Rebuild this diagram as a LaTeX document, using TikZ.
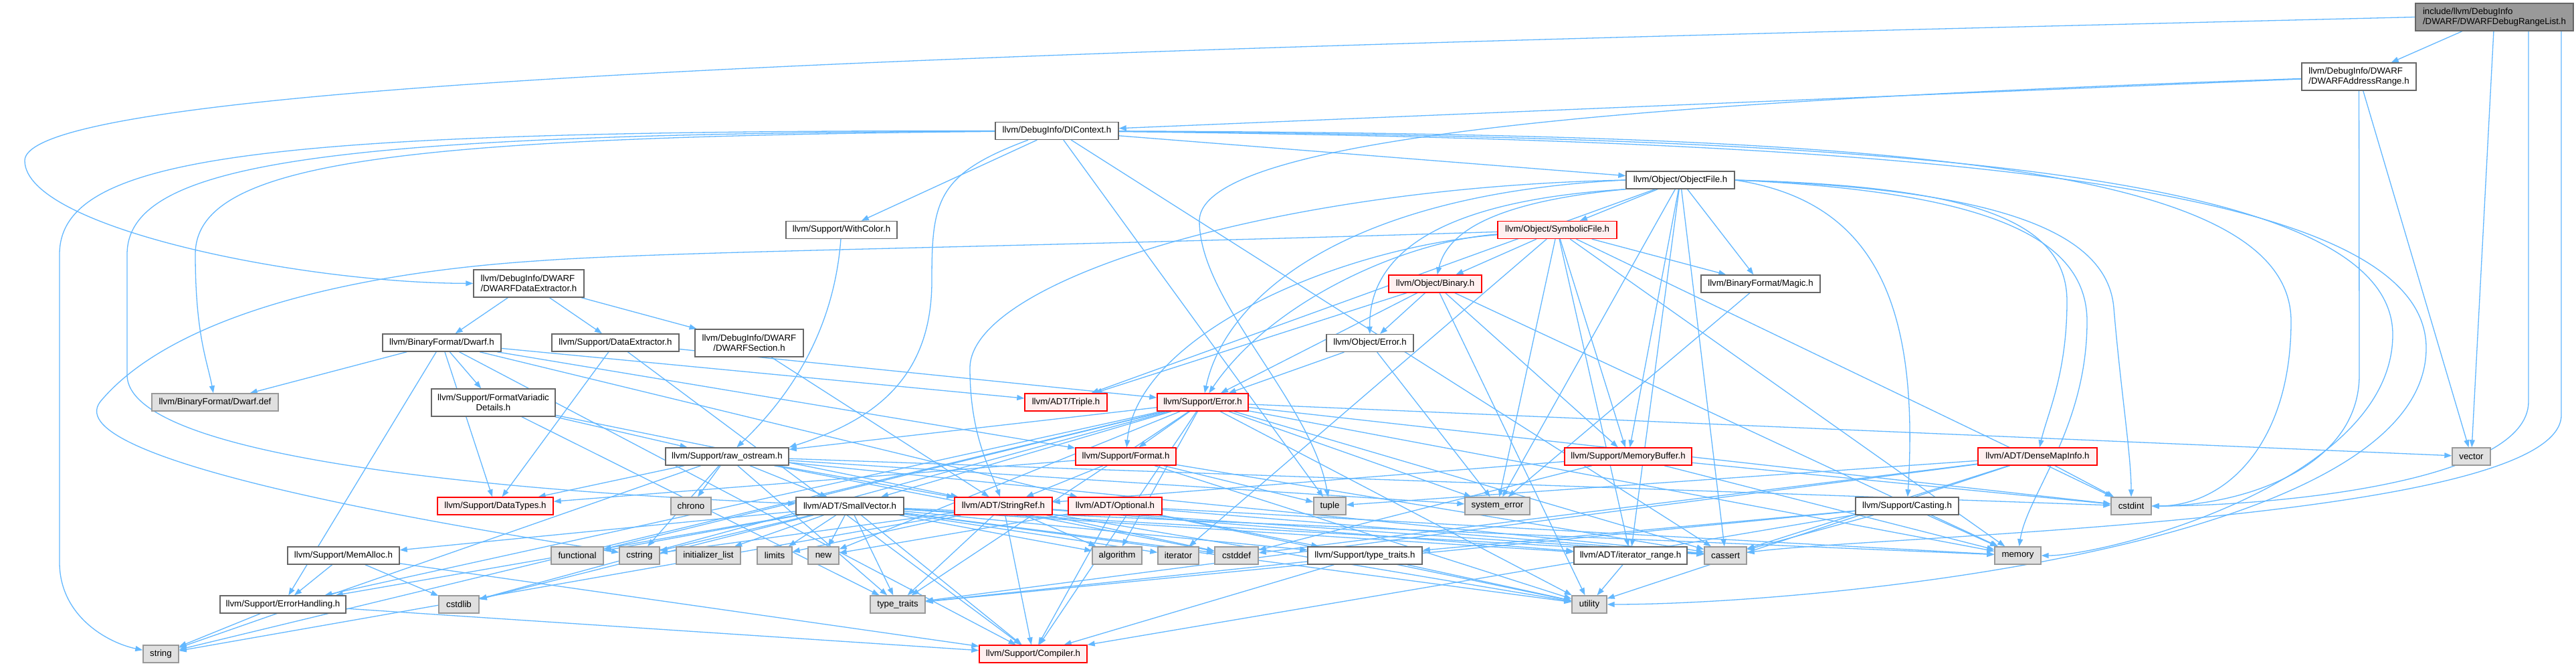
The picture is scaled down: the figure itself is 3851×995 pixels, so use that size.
\documentclass[tikz,border=0pt]{standalone}
\usepackage{fontspec}
\setmainfont{Liberation Sans}
\usetikzlibrary{arrows.meta,calc}
\pgfdeclarelayer{bgfill}
\pgfdeclarelayer{edges}
\pgfsetlayers{bgfill,edges,main}
\definecolor{edgeblue}{HTML}{63B8FF}
\definecolor{nodegray}{HTML}{666666}
\definecolor{sysfill}{HTML}{E0E0E0}
\definecolor{sysdraw}{HTML}{999999}
\definecolor{redfill}{HTML}{FFF0F0}
\definecolor{rootfill}{HTML}{999999}
\begin{document}
\begin{tikzpicture}[x=1pt,y=-1pt,
 base/.style={draw, line width=1.4pt, inner sep=0pt, minimum height=26pt, font=\fontsize{13.3}{14.8}\selectfont, text=black},
 wnode/.style={base, draw=nodegray, fill=white},
 snode/.style={base, draw=sysdraw, fill=sysfill},
 rnode/.style={base, draw=red, fill=redfill},
 rootnode/.style={base, draw=nodegray, fill=rootfill},
 twol/.style={minimum height=41pt, align=left},
 twoc/.style={minimum height=41pt, align=center},
 edge/.style={draw=edgeblue, line width=1.3pt, -{Triangle[length=11pt,width=8pt]}},
]
\useasboundingbox (0,0) rectangle (3851,995);
\begin{pgfonlayer}{bgfill}
\fill[white] (0,0) rectangle (3851,995);
\end{pgfonlayer}

\node[rootnode,twol,minimum width=236pt] (A) at (3729,25.5) {include/llvm/DebugInfo\\/DWARF/DWARFDebugRangeList.h};
\node[wnode,twol,minimum width=171pt] (B) at (3526.5,114.5) {llvm/DebugInfo/DWARF\\/DWARFAddressRange.h};
\node[wnode,minimum width=184pt] (C) at (1580,195.5) {llvm/DebugInfo/DIContext.h};
\node[wnode,minimum width=162pt] (D) at (2512,269) {llvm/Object/ObjectFile.h};
\node[wnode,minimum width=166pt] (E) at (1258,343.5) {llvm/Support/WithColor.h};
\node[rnode,minimum width=178pt] (F) at (2328,343.5) {llvm/Object/SymbolicFile.h};
\node[wnode,twol,minimum width=165pt] (G) at (790.5,423.5) {llvm/DebugInfo/DWARF\\/DWARFDataExtractor.h};
\node[rnode,minimum width=139pt] (H) at (2145.5,424) {llvm/Object/Binary.h};
\node[wnode,minimum width=178pt] (I) at (2632,424) {llvm/BinaryFormat/Magic.h};
\node[wnode,minimum width=177pt] (J) at (660.5,512) {llvm/BinaryFormat/Dwarf.h};
\node[wnode,minimum width=190pt] (K) at (920,512) {llvm/Support/DataExtractor.h};
\node[wnode,twoc,minimum width=162pt] (L) at (1120,512.5) {llvm/DebugInfo/DWARF\\/DWARFSection.h};
\node[wnode,minimum width=130pt] (M) at (2048,512.5) {llvm/Object/Error.h};
\node[snode,minimum width=189pt] (N) at (321.5,601) {llvm/BinaryFormat/Dwarf.def};
\node[wnode,twoc,minimum width=185pt] (O) at (737.5,601.5) {llvm/Support/FormatVariadic\\Details.h};
\node[rnode,minimum width=123pt] (P) at (1593.5,601) {llvm/ADT/Triple.h};
\node[rnode,minimum width=136pt] (Q) at (1798,601) {llvm/Support/Error.h};
\node[wnode,minimum width=184pt] (R) at (1087,682) {llvm/Support/raw\_ostream.h};
\node[rnode,minimum width=150pt] (S) at (1683,682) {llvm/Support/Format.h};
\node[rnode,minimum width=190pt] (T) at (2434,682) {llvm/Support/MemoryBuffer.h};
\node[rnode,minimum width=178pt] (U) at (3046,682) {llvm/ADT/DenseMapInfo.h};
\node[snode,minimum width=57pt] (V) at (3694.5,682) {vector};
\node[rnode,minimum width=173pt] (W) at (740.5,756) {llvm/Support/DataTypes.h};
\node[snode,minimum width=60pt] (X) at (1033,756) {chrono};
\node[wnode,minimum width=161pt] (Y) at (1270.5,756) {llvm/ADT/SmallVector.h};
\node[rnode,minimum width=146pt] (Z) at (1500,756) {llvm/ADT/StringRef.h};
\node[rnode,minimum width=140pt] (AA) at (1667,756) {llvm/ADT/Optional.h};
\node[snode,minimum width=48pt] (AB) at (1988,756) {tuple};
\node[snode,minimum width=97pt] (AC) at (2238.5,756) {system\_error};
\node[wnode,minimum width=154pt] (AD) at (2851,756) {llvm/Support/Casting.h};
\node[snode,minimum width=60pt] (AE) at (3186,756) {cstdint};
\node[wnode,minimum width=167pt] (AF) at (513.5,830) {llvm/Support/MemAlloc.h};
\node[snode,minimum width=78pt] (AG) at (863,830) {functional};
\node[snode,minimum width=60pt] (AH) at (956,830) {cstring};
\node[snode,minimum width=96pt] (AI) at (1059,830) {initializer\_list};
\node[snode,minimum width=52pt] (AJ) at (1158,830) {limits};
\node[snode,minimum width=46pt] (AK) at (1231,830) {new};
\node[snode,minimum width=74pt] (AL) at (1670,830) {algorithm};
\node[snode,minimum width=61pt] (AM) at (1761.5,830) {iterator};
\node[snode,minimum width=65pt] (AN) at (1848.5,830) {cstddef};
\node[wnode,minimum width=171pt] (AO) at (2040.5,830) {llvm/Support/type\_traits.h};
\node[wnode,minimum width=169pt] (AP) at (2437.5,830) {llvm/ADT/iterator\_range.h};
\node[snode,minimum width=63pt] (AQ) at (2579.5,830) {cassert};
\node[snode,minimum width=69pt] (AR) at (3016.5,830) {memory};
\node[wnode,minimum width=188pt] (AS) at (423,903) {llvm/Support/ErrorHandling.h};
\node[snode,minimum width=60pt] (AT) at (686,903) {cstdlib};
\node[snode,minimum width=82pt] (AU) at (1342,903) {type\_traits};
\node[snode,minimum width=52pt] (AV) at (2376,903) {utility};
\node[snode,minimum width=53pt] (AW) at (240.5,977) {string};
\node[rnode,minimum width=161pt] (AX) at (1544.5,977) {llvm/Support/Compiler.h};

\begin{pgfonlayer}{edges}
\foreach \s/\t in {A/B, A/V, B/C, B/V, C/E, C/D, C/AQ, C/AB,
 D/P, D/AP, D/I, D/F, D/T, D/AQ, D/AC,
 F/AP, F/I, F/H, F/T, F/AE, F/AM, F/AR, F/AC,
 H/P, H/M, H/Q, H/T, H/AR, H/AV,
 M/Q, M/AC, I/AC,
 G/J, G/L, G/K,
 J/N, J/O, J/W, J/AS, J/AX, J/AA, J/S, J/P,
 K/AX, K/W, K/Q,
 L/Z,
 O/Z, O/R, O/AU,
 Q/Y, Q/AX, Q/AS, Q/S, Q/R, Q/AL, Q/AQ, Q/AE, Q/AT, Q/AG, Q/AR, Q/AK, Q/AW, Q/AC, Q/AU, Q/AV, Q/V,
 R/Y, R/Z, R/W, R/AQ, R/X, R/AN, R/AE, R/AH, R/AW, R/AC, R/AU,
 S/Z, S/W, S/AQ, S/AB, S/AV,
 T/Z, T/AN, T/AE, T/AR,
 U/AQ, U/AN, U/AE, U/AB, U/AU, U/AV,
 Y/AP, Y/AX, Y/AS, Y/AF, Y/AO, Y/AL, Y/AQ, Y/AN, Y/AT, Y/AH, Y/AG, Y/AI, Y/AM, Y/AJ, Y/AR, Y/AK, Y/AU, Y/AV,
 AF/AX, AF/AS, AF/AT,
 AS/AX, AS/AW,
 Z/AP, Z/AX, Z/AL, Z/AQ, Z/AN, Z/AH, Z/AJ, Z/AW, Z/AU, Z/AV,
 AA/AX, AA/AO, AA/AQ, AA/AR, AA/AK, AA/AV,
 AD/AX, AD/AO, AD/AQ, AD/AR, AD/AU,
 AO/AX, AO/AU, AO/AV,
 AP/AV}
 {\draw[edge] (\s) -- (\t);}

% long routed edges
\draw[edge] (A.west) .. controls (1800,70) and (37,110) .. (37,240) .. controls (37,340) and (450,423) .. (G);
\draw[edge] ([xshift=100pt]A.south) -- (3829,620) .. controls (3829,780) and (2800,800) .. (AQ);
\draw[edge] ([xshift=51pt]A.south) -- (3780,600) .. controls (3780,720) and (3400,756) .. (AE);
\draw[edge] (B) .. controls (2500,150) and (1793,200) .. (1793,330) .. controls (1793,450) and (1960,600) .. (AB);
\draw[edge] (B.south) -- (3527,560) .. controls (3527,700) and (3350,756) .. (AE);
\draw[edge] ([xshift=-43pt]C.south) .. controls (1400,260) and (1393,300) .. (1393,420) .. controls (1393,570) and (1300,630) .. (R.north east);
\draw[edge] (C) .. controls (500,200) and (190,240) .. (190,380) -- (190,560) .. controls (190,700) and (900,740) .. (Y);
\draw[edge] (C) .. controls (600,205) and (292,240) .. (292,380) .. controls (292,500) and (310,540) .. (N);
\draw[edge] (C) .. controls (400,195) and (89,230) .. (89,380) -- (89,840) .. controls (89,920) and (160,960) .. (AW);
\draw[edge] (C) .. controls (2800,200) and (3425,240) .. (3425,480) .. controls (3425,660) and (3330,756) .. (AE);
\draw[edge] (C) .. controls (2800,205) and (3577,250) .. (3577,500) .. controls (3577,720) and (3150,830) .. (AR);
\draw[edge] (C) .. controls (2800,210) and (3627,260) .. (3627,520) .. controls (3627,820) and (2700,903) .. (AV);
\draw[edge] (F) .. controls (1500,370) and (1000,375) .. (800,390) .. controls (500,410) and (250,480) .. (150,600) .. controls (80,690) and (700,790) .. (AH);
% edges from ObjectFile and SymbolicFile routed around the chain
\draw[edge] (D.south west) .. controls (2250,300) and (2165,340) .. (H);
\draw[edge] (D.south west) .. controls (2150,300) and (2046,380) .. (M);
\draw[edge] (D.west) .. controls (2000,290) and (1830,450) .. (Q);
\draw[edge] (D.west) .. controls (1900,280) and (1450,420) .. (1450,550) .. controls (1450,650) and (1480,700) .. (Z);
\draw[edge] (D.east) .. controls (2800,300) and (2870,450) .. (AD);
\draw[edge] (D.east) .. controls (2950,278) and (3090,330) .. (3090,450) .. controls (3090,560) and (3060,620) .. (U);
\draw[edge] (D.east) .. controls (2970,282) and (3150,340) .. (3160,460) .. controls (3170,580) and (3186,680) .. (AE);
\draw[edge] (D.east) .. controls (2960,286) and (3120,350) .. (3120,480) .. controls (3120,640) and (3030,740) .. (AR);
\draw[edge] (F) .. controls (2100,360) and (1900,450) .. (Q);
\draw[edge] (F) .. controls (2000,370) and (1700,500) .. (S);
\draw[edge] (E) .. controls (1250,450) and (1215,560) .. (R);
\end{pgfonlayer}
\end{tikzpicture}
\end{document}
